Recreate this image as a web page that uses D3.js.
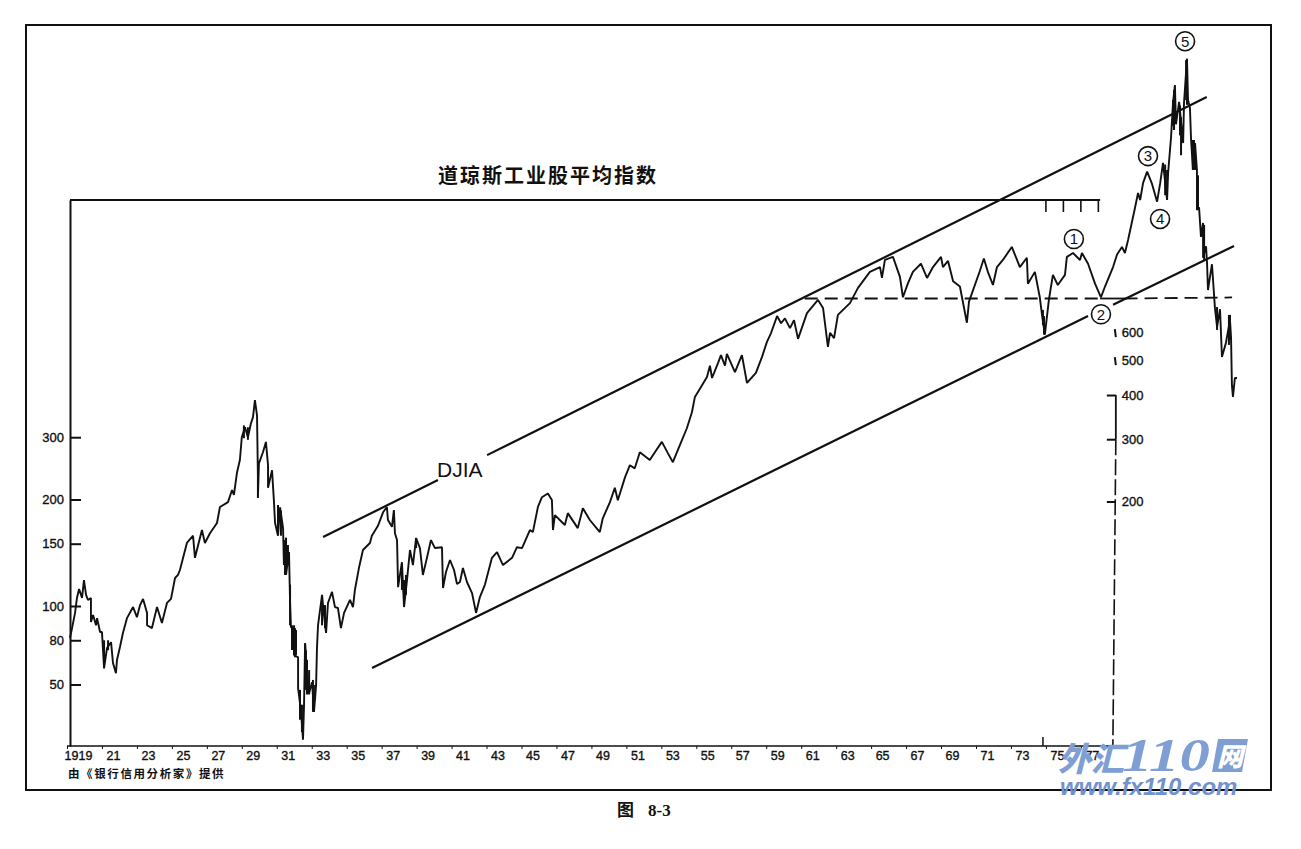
<!DOCTYPE html>
<html>
<head>
<meta charset="utf-8">
<title>DJIA</title>
<script src="https://cdn.jsdelivr.net/npm/d3@7/dist/d3.min.js"></script>
<style>
  html, body { margin: 0; padding: 0; background: #fff; }
  svg { display: block; }
  text { font-family: "Liberation Sans", Arial, sans-serif; fill: #111; }
  .cjk { font-family: "Noto Sans CJK SC", sans-serif; }
  .axis text { font-size: 13px; stroke: #111; stroke-width: 0.35px; }
  .axis line, .axis path { stroke: #111; stroke-width: 2px; }
</style>
</head>
<body>
<script>
/*======================== DATA ========================*/
var titleText = "道琼斯工业股平均指数";
var seriesName = "DJIA";
var sourceText = "由《银行信用分析家》提供";
var captionCn = "图";
var captionNo = "8-3";

var yearTicks = [1919,1921,1923,1925,1927,1929,1931,1933,1935,1937,1939,1941,1943,1945,1947,1949,1951,1953,1955,1957,1959,1961,1963,1965,1967,1969,1971,1973,1975,1977];
var yearLabels = ["1919","21","23","25","27","29","31","33","35","37","39","41","43","45","47","49","51","53","55","57","59","61","63","65","67","69","71","73","75","77"];
var topTicks = [1975,1976,1977,1978];

// the printed "50" sits where 60 would fall on the log scale
var leftTicks = [300,200,150,100,80,60];
var leftLabels = ["300","200","150","100","80","50"];
var rightTicks = [600,500,400,300,200];

var priceYears = [
1919.17,1919.29,1919.46,1919.57,1919.69,1919.86,1919.97,1920.09,1920.2,1920.37,1920.37,1920.49,1920.66,1920.72,1920.89,1921,1921.06,1921.12,1921.29,1921.52,
1921.63,1921.8,1921.86,1922.03,1922.2,1922.43,1922.78,1923,1923.18,1923.35,1923.58,1923.58,1923.86,1924.15,1924.43,1924.72,1924.95,1925.18,1925.35,1925.46,
1925.86,1926.21,1926.32,1926.72,1926.89,1927.18,1927.58,1927.75,1928.21,1928.44,1928.55,1928.72,1928.89,1929,1929.18,1929.35,1929.52,1929.64,1929.75,1929.87,
1929.92,1929.92,1929.98,1930.21,1930.38,1930.5,1930.5,1930.73,1930.79,1930.84,1930.9,1931.07,1931.19,1931.36,1931.41,1931.53,1931.53,1931.7,1931.76,1931.81,
1931.93,1931.99,1932.22,1932.22,1932.39,1932.5,1932.56,1932.62,1932.73,1932.85,1933.02,1933.13,1933.25,1933.3,1933.36,1933.59,1933.7,1933.82,1933.93,1934.16,
1934.33,1934.5,1934.67,1934.85,1935.19,1935.36,1935.47,1935.7,1935.93,1936.33,1936.44,1936.79,1937.08,1937.3,1937.36,1937.59,1937.7,1937.76,1937.88,1937.94,
1938.16,1938.28,1938.45,1938.62,1938.79,1938.97,1939.19,1939.36,1939.59,1939.82,1940.05,1940.45,1940.51,1940.68,1940.91,1941.14,1941.31,1941.48,1941.65,1941.88,
1942.17,1942.4,1942.62,1942.91,1943.31,1943.6,1943.94,1944.46,1944.74,1945.03,1945.48,1945.65,1945.94,1946.17,1946.51,1946.74,1946.8,1946.91,1947.48,1947.65,
1948.22,1948.51,1948.91,1949.48,1949.65,1950.06,1950.34,1950.51,1950.92,1951.2,1951.48,1951.77,1952.34,1952.63,1953.03,1953.38,1953.66,1954.06,1954.46,1954.75,
1954.92,1955.32,1955.61,1955.78,1955.9,1956.24,1956.41,1956.64,1956.75,1957.21,1957.61,1957.9,1958.41,1958.76,1959.04,1959.27,1959.62,1959.85,1960.07,1960.36,
1960.59,1960.82,1961.33,1961.96,1962.25,1962.53,1962.65,1962.88,1963.1,1963.79,1964.25,1964.93,1965.51,1965.62,1965.79,1966.25,1966.65,1966.82,1967.1,1967.39,
1967.85,1968.2,1968.54,1969,1969.11,1969.4,1969.69,1970.08,1970.48,1970.6,1971.22,1971.45,1971.68,1971.97,1972.2,1972.54,1973.05,1973.51,1973.91,1973.97,
1974.37,1974.65,1974.77,1974.94,1975.17,1975.4,1975.68,1976.09,1976.2,1976.55,1976.95,1977.06,1977.41,1977.81,1978.15,1978.38,1978.84,1979.07,1979.35,1979.52,
1979.7,1980.1,1980.27,1980.39,1980.56,1980.79,1981.07,1981.36,1981.53,1981.7,1981.93,1981.99,1982.16,1982.27,1982.38,1982.44,1982.5,1982.62,1982.85,1982.9,
1983.07,1983.13,1983.24,1983.3,1983.41,1983.53,1983.64,1983.64,1983.76,1983.87,1983.99,1983.99,1984.16,1984.22,1984.27,1984.5,1984.67,1984.79,1984.96,1985.07,
1985.3,1985.53,1985.59,1985.64,1985.7,1985.81,1985.93
];
var priceValues = [
81.2,86.6,95.6,105.4,111.7,105.4,118.4,107.5,104,105.4,90.1,94.3,88.2,92.4,84.4,84.4,75.1,66.6,76.1,79,
69,64.6,70.4,76.6,83.9,92.4,99.3,93,100.6,104.7,95.6,88.2,86.6,99.3,89.5,102,104.7,120,122.4,126.4,
150.7,158,136.8,163.9,150.7,160.6,171.6,190.5,196.6,212.7,206,237.6,258.6,300,320,300,328,342,382,346,
234,202,253,272,291,250,216,242,216,197,172,158,190,166,130.5,156,122.4,142,102.6,87.2,
86.6,72.7,71.6,58.6,50.2,41.9,52.6,78.6,64.9,56.8,60.9,50.2,59.8,76.1,88.2,107.5,94.3,83.9,102,109.6,
99.3,98.7,86.6,95.6,104,99.3,111,128,144,150.7,158,168.6,184,190.5,174.9,167.4,186.7,160.6,153.6,113,
133,99.3,118.4,144,130.5,155.7,145.8,122.4,136.8,153.6,145.8,146.6,112.4,124.8,134.9,126.4,115.4,116.9,128,116.9,
108.8,95.6,106,115,136.8,142,130.5,136.8,146.6,145.8,163.9,161.8,190.5,203,208,199.3,163.9,180.6,169.4,183,
166,189,175,161.8,177,196.6,216,199,231,250,245,272,258.6,272,291,270,255,285,318,353,
390,420,444,478,441,486,512,478,516,458,512,427,456,506,558,590,660,630,650,610,
643,569,673,733,696,540,592,572,665,718,793,880,908,846,951,970,852,746,815,880,
928,846,908,970,908,945,828,800,632,725,885,960,880,808,908,951,1035,908,965,815,
880,746,670,585,733,863,808,863,970,995,951,995,928,815,746,800,908,985,1035,995,
1083,1338,1470,1405,1570,1690,1560,1390,1560,1790,1405,1675,2120,2640,2970,2300,2413,2660,2035,2640,
3525,2693,2556,2100,1708,2035,1708,1317,1340,1105,1210,965,1040,925,782,925,695,615,690,506,
555,643,575,421,390,441,441
];

// high-low bars where the printed line clots into solid blocks
var barYears = [1921.12,1921.35,1929.12,1929.35,1931.07,1931.24,1931.47,1931.64,1931.76,1931.87,1931.99,1932.04,1932.1,1932.33,1932.44,1932.62,1932.67,1932.73,1932.85,1933.07,1933.19,1933.59,1933.76,1938.16,1938.28,1938.39,1938.97,1974.83,1974.89,1981.82,1981.93,1982.27,1982.33,1982.67,1982.73,1983.02,1983.07,1983.41,1983.47,1983.53,1983.7,1984.05,1984.79,1985.47,1985.53];
var barHighs = [80,80,324,320,193,186,153.6,148.7,115,88.2,88.2,86.6,85.5,57.9,52.6,77.8,75,70.4,65.9,61.8,59.8,106.7,100.6,126.4,118.4,122.4,155.7,687,660,1770,1708,2693,2875,2600,2410,3494,3494,2076,2076,2005,1650,1195,700,665,665];
var barLows = [70.4,75,298,295,164,158,122.4,130.5,88.2,75.1,72.7,71.6,72.7,47.7,44,57.9,61.8,56.2,56.2,50.2,54.3,88.2,86.6,111,104,107.5,145.8,622,585,1450,1405,2280,2216,2140,1880,2693,2610,1708,1765,1708,1317,951,603,547,565];

// trend channel, [year, value], broken where the labels sit
var upperTrendA = [[1933.65,156.6],[1940.22,227]];
var upperTrendB = [[1943.03,267],[1984.2,2746]];
var lowerTrendA = [[1936.45,66.8],[1977.41,660]];
var lowerTrendB = [[1978.84,710],[1985.76,1042]];
var supportDashA = [[1961.2,740],[1978.1,740]];
var supportSolid = [[1978.1,740],[1979.5,740]];
var supportDashB = [[1979.5,740],[1985.65,745]];

var waveLabels = ["1","2","3","4","5"];
var waveYears = [1976.6,1978.15,1980.84,1981.53,1982.96];
var waveValues = [1090,668,1870,1242,3950];

/*======================== SETUP ========================*/
var width = 1301, height = 849;
var ink = "#111";
var markBlue = "#7f9fd4";

var svg = d3.select("body").append("svg")
    .attr("width", width)
    .attr("height", height);

var x = d3.scaleLinear().domain([1919, 1986]).range([67, 1238.2]);
var y = d3.scaleLog().domain([40.2, 1405]).range([746, 200]);

var line = d3.line()
    .x(function(d) { return x(d[0]); })
    .y(function(d) { return y(d[1]); });

function drawLine(points, w, dash) {
    return svg.append("path")
	.attr("d", line(points))
	.attr("fill", "none")
	.attr("stroke", ink)
	.attr("stroke-width", w)
	.attr("stroke-dasharray", dash || null);
}

/*======================== FRAME ========================*/
svg.append("rect")
    .attr("x", 26).attr("y", 25)
    .attr("width", 1245).attr("height", 765)
    .attr("fill", "none")
    .attr("stroke", ink)
    .attr("stroke-width", 2);

/*======================== AXES ========================*/
var leftAxis = d3.axisLeft(y)
    .tickValues(leftTicks)
    .tickFormat(function(d, i) { return leftLabels[i]; })
    .tickSizeInner(-11).tickSizeOuter(0).tickPadding(6);

svg.append("g").attr("class", "axis")
    .attr("transform", "translate(70,0)")
    .call(leftAxis);

var bottomAxis = d3.axisBottom(x)
    .tickValues(yearTicks)
    .tickFormat(function(d, i) { return yearLabels[i]; })
    .tickSizeInner(3).tickSizeOuter(0).tickPadding(2);

var bottom = svg.append("g").attr("class", "axis")
    .attr("transform", "translate(0,746)")
    .call(bottomAxis);
bottom.select(".domain").remove();
bottom.selectAll(".tick line").style("stroke-width", "1px");
bottom.selectAll(".tick text").attr("dx", 11).style("font-size", "12.5px");

svg.append("line")
    .attr("x1", x(1919)).attr("x2", x(1978.8))
    .attr("y1", 746).attr("y2", 746)
    .attr("stroke", ink).attr("stroke-width", 1.6);

svg.append("line")
    .attr("x1", x(1974.83)).attr("x2", x(1974.83))
    .attr("y1", 746).attr("y2", 737)
    .attr("stroke", ink).attr("stroke-width", 1.5);

// top rule with the short year marks hanging from it
svg.append("line")
    .attr("x1", 70).attr("x2", x(1978.1))
    .attr("y1", y(1405)).attr("y2", y(1405))
    .attr("stroke", ink).attr("stroke-width", 2);

svg.selectAll(".topTick")
    .data(topTicks)
    .enter().append("line")
    .attr("class", "topTick")
    .attr("x1", function(d) { return x(d); })
    .attr("x2", function(d) { return x(d); })
    .attr("y1", 200).attr("y2", 212)
    .attr("stroke", ink).attr("stroke-width", 1.6);

// right hand scale, dashed down to the time axis
var rightAxis = d3.axisRight(y)
    .tickValues(rightTicks)
    .tickFormat(function(d) { return d; })
    .tickSizeInner(-9).tickSizeOuter(0).tickPadding(6);

var right = svg.append("g").attr("class", "axis")
    .attr("transform", "translate(" + x(1979) + ",2)")
    .call(rightAxis);
right.select(".domain").remove();
right.selectAll(".tick line")
    .filter(function(d) { return d > 400; })
    .attr("x1", -1).attr("x2", 0).attr("y1", -4).attr("y2", 4);

svg.append("line")
    .attr("x1", x(1979)).attr("x2", x(1979))
    .attr("y1", y(400) + 2).attr("y2", y(300) + 2)
    .attr("stroke", ink).attr("stroke-width", 1.8);
svg.append("line")
    .attr("x1", x(1979)).attr("x2", x(1978.83))
    .attr("y1", y(300) + 2).attr("y2", 746)
    .attr("stroke", ink).attr("stroke-width", 1.6)
    .attr("stroke-dasharray", "16 4");

/*======================== LINES ========================*/
drawLine(upperTrendA, 2.2);
drawLine(upperTrendB, 2.2);
drawLine(lowerTrendA, 2.2);
drawLine(lowerTrendB, 2.2);
drawLine(supportDashA, 1.8, "13 7");
drawLine(supportSolid, 1.8);
drawLine(supportDashB, 1.8, "13 7");

drawLine(d3.zip(priceYears, priceValues), 1.9)
    .attr("stroke-linejoin", "bevel");

svg.selectAll(".bar")
    .data(barYears)
    .enter().append("line")
    .attr("class", "bar")
    .attr("x1", function(d) { return x(d); })
    .attr("x2", function(d) { return x(d); })
    .attr("y1", function(d, i) { return y(barHighs[i]); })
    .attr("y2", function(d, i) { return y(barLows[i]); })
    .attr("stroke", ink)
    .attr("stroke-width", 2);

/*======================== WAVE COUNT ========================*/
var wave = svg.selectAll(".wave")
    .data(waveLabels)
    .enter().append("g")
    .attr("class", "wave")
    .attr("transform", function(d, i) {
	return "translate(" + x(waveYears[i]) + "," + y(waveValues[i]) + ")";
    });

wave.append("circle")
    .attr("r", 9.5)
    .attr("fill", "#fff")
    .attr("stroke", ink)
    .attr("stroke-width", 1.6);

wave.append("text")
    .attr("text-anchor", "middle")
    .attr("dy", "0.36em")
    .style("font-size", "15px")
    .text(function(d) { return d; });

/*======================== TEXT ========================*/
svg.append("text").attr("class", "cjk")
    .attr("x", 548).attr("y", 183)
    .attr("text-anchor", "middle")
    .style("font-size", "20px").style("font-weight", 700)
    .style("letter-spacing", "2px")
    .text(titleText);

svg.append("text")
    .attr("x", 437).attr("y", 477)
    .style("font-size", "21px")
    .text(seriesName);

svg.append("text").attr("class", "cjk")
    .attr("x", 68).attr("y", 778)
    .style("font-size", "11.5px").style("font-weight", 700)
    .style("letter-spacing", "1.6px")
    .text(sourceText);

svg.append("text").attr("class", "cjk")
    .attr("x", 617).attr("y", 816)
    .style("font-size", "17px").style("font-weight", 700)
    .text(captionCn);

svg.append("text")
    .attr("x", 648).attr("y", 816)
    .style("font-family", "Liberation Serif")
    .style("font-size", "17px").style("font-weight", 700)
    .text(captionNo);

/*======================== WATERMARK ========================*/
svg.append("text").attr("class", "cjk")
    .attr("x", 1058).attr("y", 771)
    .style("fill", markBlue).style("font-size", "33px")
    .style("font-weight", 900).style("font-style", "italic")
    .text("外汇");
svg.append("text")
    .attr("x", 1122).attr("y", 771)
    .attr("textLength", 88).attr("lengthAdjust", "spacingAndGlyphs")
    .style("fill", markBlue).style("font-family", "Liberation Serif")
    .style("font-size", "47px").style("font-weight", 700).style("font-style", "italic")
    .text("110");
svg.append("path")
    .attr("d", "M1218,739H1248L1242,772H1212Z")
    .attr("fill", markBlue);
svg.append("text").attr("class", "cjk")
    .attr("x", 1230).attr("y", 766)
    .attr("text-anchor", "middle")
    .style("fill", "#fff").style("font-size", "26px")
    .style("font-weight", 900).style("font-style", "italic")
    .text("网");
svg.append("text")
    .attr("x", 1060).attr("y", 795)
    .style("fill", "#7292cc").style("font-size", "24px")
    .style("font-weight", 700).style("font-style", "italic")
    .text("www.fx110.com");
</script>
</body>
</html>
